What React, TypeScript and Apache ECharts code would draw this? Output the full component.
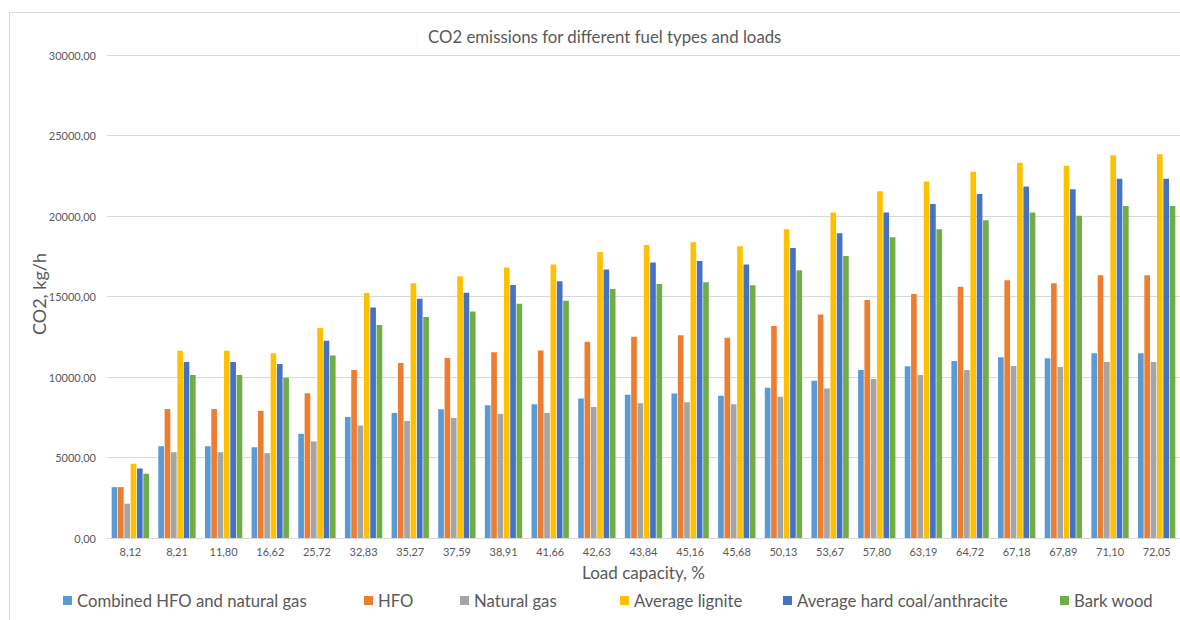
import React, { useEffect, useRef } from "react";
import * as echarts from "echarts";

const categories = ["8,12", "8,21", "11,80", "16,62", "25,72", "32,83", "35,27", "37,59", "38,91", "41,66", "42,63", "43,84", "45,16", "45,68", "50,13", "53,67", "57,80", "63,19", "64,72", "67,18", "67,89", "71,10", "72,05"];

const seriesNames = ["Combined HFO and natural gas", "HFO", "Natural gas", "Average lignite", "Average hard coal/anthracite", "Bark wood"];

const combined = [3160, 5700, 5700, 5640, 6470, 7520, 7770, 8000, 8240, 8300, 8660, 8900, 8970, 8840, 9340, 9770, 10430, 10670, 10990, 11220, 11160, 11470, 11470];
const hfo = [3160, 8020, 8020, 7900, 8990, 10440, 10870, 11180, 11530, 11650, 12190, 12500, 12600, 12440, 13160, 13880, 14790, 15160, 15600, 16010, 15830, 16320, 16320];
const naturalGas = [2130, 5330, 5330, 5270, 6000, 6980, 7270, 7460, 7710, 7770, 8140, 8370, 8430, 8300, 8780, 9280, 9880, 10120, 10430, 10680, 10620, 10930, 10930];
const lignite = [4610, 11630, 11630, 11470, 13040, 15210, 15830, 16260, 16800, 16990, 17770, 18200, 18370, 18120, 19170, 20210, 21530, 22150, 22750, 23310, 23120, 23780, 23840];
const hardCoal = [4320, 10930, 10930, 10810, 12250, 14320, 14860, 15230, 15720, 15950, 16670, 17110, 17210, 16990, 18020, 18930, 20210, 20750, 21370, 21840, 21660, 22320, 22320];
const barkWood = [3990, 10130, 10130, 9960, 11340, 13230, 13720, 14070, 14550, 14730, 15460, 15770, 15890, 15700, 16630, 17520, 18680, 19180, 19730, 20210, 20020, 20620, 20620];

const seriesData = [combined, hfo, naturalGas, lignite, hardCoal, barkWood];
const colors = ["#5B9BD5", "#ED7D31", "#A5A5A5", "#FFC000", "#4472C4", "#70AD47"];
const legendLeft = [58, 359, 455, 615, 778, 1055];

const FONT = "Lato, 'Open Sans', sans-serif";
const TXT = "#595959";

export default function App() {
  const ref = useRef<HTMLDivElement>(null);
  useEffect(() => {
    document.body.style.margin = "0";
    document.body.style.overflow = "hidden";
    const chart = echarts.init(ref.current!, null, { renderer: "svg" });
    chart.setOption({
      animation: false,
      backgroundColor: "#ffffff",
      color: colors,
      title: {
        text: "CO2 emissions for different fuel types and loads",
        left: 423,
        top: 23,
        textStyle: { fontFamily: FONT, fontSize: 16.8, fontWeight: "normal", color: TXT },
      },
      graphic: [
        {
          type: "rect",
          shape: { x: 9.5, y: 12.5, width: 1300, height: 700 },
          style: { fill: "none", stroke: "#d9d9d9", lineWidth: 1 },
          silent: true,
        },
        {
          type: "text",
          x: 39,
          y: 294,
          rotation: Math.PI / 2,
          style: {
            text: "CO2, kg/h",
            fontFamily: FONT,
            fontSize: 18,
            fill: TXT,
            textAlign: "center",
            textVerticalAlign: "middle",
          },
          silent: true,
        },
      ],
      legend: seriesNames.map((n, i) => ({
        data: [n],
        left: legendLeft[i],
        top: 587,
        icon: "rect",
        itemWidth: 9,
        itemHeight: 9,
        textStyle: { fontFamily: FONT, fontSize: 16.7, color: TXT },
      })),
      grid: { left: 107, right: -2, top: 55, bottom: 82, containLabel: false },
      xAxis: {
        type: "category",
        data: categories,
        name: "Load capacity, %",
        nameLocation: "middle",
        nameGap: 26,
        nameTextStyle: { fontFamily: FONT, fontSize: 17, color: TXT },
        axisLine: { lineStyle: { color: "#d9d9d9" } },
        axisTick: { show: false },
        axisLabel: { fontFamily: FONT, fontSize: 11, color: TXT, margin: 8, interval: 0 },
      },
      yAxis: {
        type: "value",
        min: 0,
        max: 30000,
        interval: 5000,
        axisLine: { show: false },
        axisTick: { show: false },
        splitLine: { lineStyle: { color: "#d9d9d9" } },
        axisLabel: {
          fontFamily: FONT,
          fontSize: 11,
          color: TXT,
          margin: 11,
          formatter: (v: number) => v.toFixed(2).replace(".", ","),
        },
      },
      series: seriesNames.map((n, i) => ({
        name: n,
        type: "bar",
        data: seriesData[i],
        barGap: "12%",
        barCategoryGap: "20%",
        itemStyle: { color: colors[i] },
      })),
    });
    return () => chart.dispose();
  }, []);
  return <div ref={ref} style={{ width: 1180, height: 620 }} />;
}
